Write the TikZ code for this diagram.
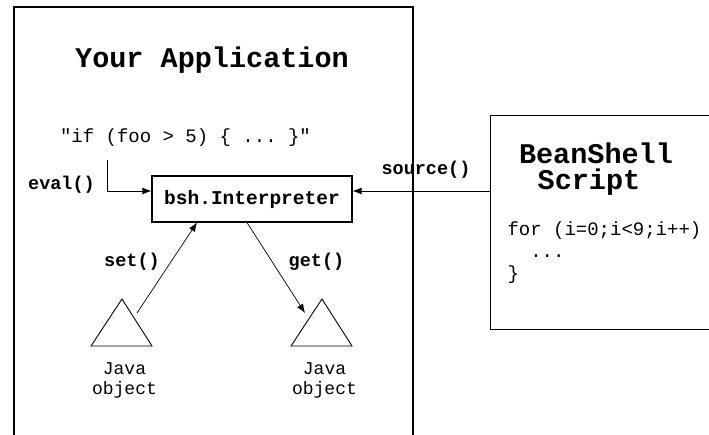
\documentclass[tikz,border=0pt]{standalone}
\usepackage{fontspec}
\setmonofont{Liberation Mono}
\usetikzlibrary{arrows.meta}
\begin{document}
\begin{tikzpicture}[x=1pt,y=-1pt,
  box/.style={draw,line width=1.1pt},
  arr/.style={-{Latex[length=9pt,width=7pt]},line width=1pt},
  thinarr/.style={-{Latex[length=9pt,width=7pt]},line width=0.7pt},
  big/.style={font=\ttfamily\bfseries\fontsize{28.5}{30}\selectfont},
  call/.style={font=\ttfamily\bfseries\fontsize{18.5}{20}\selectfont},
  code/.style={font=\ttfamily\fontsize{19}{22}\selectfont}]
\useasboundingbox (0,0) rectangle (709,434);
\clip (0,0) rectangle (709,434);
\draw[box] (14,450) |- (413,7) -- (413,450);
\node[big] (app) at (212,60) {Your Application};
\node[code] (cond) at (185.5,138) {"if (foo > 5) \{ ... \}"};
\node[box,minimum width=200pt,minimum height=46pt,inner sep=0pt,
  font=\ttfamily\bfseries\fontsize{19.5}{20}\selectfont] (interp) at (252,199) {bsh.Interpreter};
\node[box,anchor=north west,minimum width=240pt,minimum height=214pt] (script) at (490,115) {};
\node[big] (bean) at (596,153) {BeanShell};
\node[big] (scr) at (589,182) {Script};
\node[code,anchor=west,align=left] (loop) at (504,253) {for (i=0;i<9;i++)\\\ \ ...\\\}};
\coordinate (evalfrom) at (107,160);
\coordinate (evalin) at ([yshift=8pt]interp.west);
\coordinate (srcin) at ([yshift=8pt]interp.east);
\draw[arr] (evalfrom) |- (evalin);
\draw[arr] (script.west |- srcin) -- (srcin);
\node[call] (eval) at (61.5,185) {eval()};
\node[call] (src) at (426,170) {source()};
\draw[line width=0.9pt] (91,346) -- (122,299) -- (152,346) -- cycle;
\draw[line width=0.9pt] (291,346) -- (322,299) -- (352,346) -- cycle;
\coordinate (setfrom) at (137,313);
\coordinate (getto) at (305,313);
\draw[thinarr] (setfrom) -- ([xshift=-55pt]interp.south);
\draw[thinarr] ([xshift=-5pt]interp.south) -- (getto);
\node[call] (set) at (132,262) {set()};
\node[call] (get) at (316.5,262) {get()};
\node[code,align=center,font=\ttfamily\fontsize{18}{20}\selectfont] (javaa) at (124.5,380) {Java\\object};
\node[code,align=center,font=\ttfamily\fontsize{18}{20}\selectfont] (javab) at (324.5,380) {Java\\object};
\end{tikzpicture}
\end{document}
